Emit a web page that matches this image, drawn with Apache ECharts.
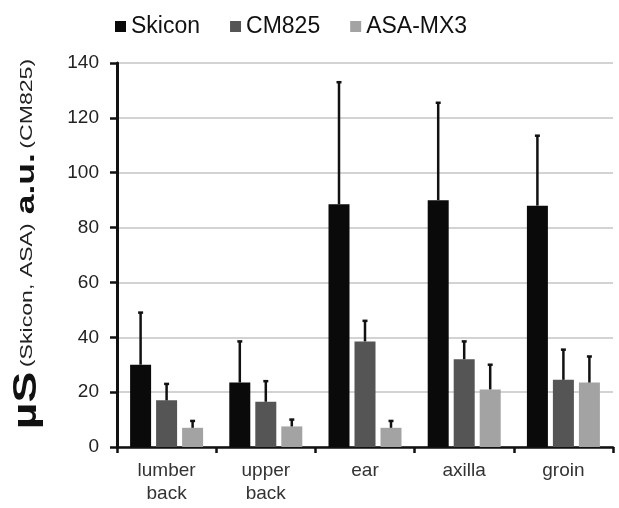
<!DOCTYPE html>
<html><head><meta charset="utf-8">
<script src="https://cdn.jsdelivr.net/npm/echarts@6/dist/echarts.min.js"></script>
<style>html,body{margin:0;padding:0;background:#fff}#c{width:619px;height:508px}</style>
</head><body><div id="c"></div>
<script>
const categories = ['lumber\nback', 'upper\nback', 'ear', 'axilla', 'groin'];
const seriesNames = ['Skicon', 'CM825', 'ASA-MX3'];
const skicon = [30, 23.5, 88.5, 90, 88];
const skiconErr = [19, 15, 44.5, 35.5, 25.5];
const cm825 = [17, 16.5, 38.5, 32, 24.5];
const cm825Err = [6, 7.5, 7.5, 6.5, 11];
const asa = [7, 7.5, 7, 21, 23.5];
const asaErr = [2.5, 2.5, 2.5, 9, 9.5];
const yTicks = [0, 20, 40, 60, 80, 100, 120, 140];

const FONT = 'Liberation Sans, Arial, sans-serif';
const colors = ['#0a0a0a', '#555555', '#a3a3a3'];
const BAR_W = 21, GAP = 5;
const means = [skicon, cm825, asa];
const errs = [skiconErr, cm825Err, asaErr];

function errSeries(idx) {
  const data = categories.map((c, i) => [i, means[idx][i], means[idx][i] + errs[idx][i]]);
  return {
    type: 'custom', name: seriesNames[idx] + ' err', z: 5,
    data: data,
    renderItem: function (params, api) {
      const off = (idx - 1) * (BAR_W + GAP);
      const p0 = api.coord([api.value(0), api.value(1)]);
      const p1 = api.coord([api.value(0), api.value(2)]);
      const x = p0[0] + off;
      return {
        type: 'group', children: [
          { type: 'line', shape: { x1: x, y1: p0[1], x2: x, y2: p1[1] }, style: { stroke: '#111', lineWidth: 2.5 } },
          { type: 'line', shape: { x1: x - 2.5, y1: p1[1], x2: x + 2.5, y2: p1[1] }, style: { stroke: '#111', lineWidth: 2.5 } }
        ]
      };
    },
    silent: true, tooltip: { show: false }
  };
}

const chart = echarts.init(document.getElementById('c'), null, { renderer: 'canvas' });
chart.setOption({
  animation: false,
  textStyle: { fontFamily: FONT },
  legend: {
    data: seriesNames, left: 110, top: 10, itemWidth: 11, itemHeight: 11, itemGap: 30,
    textStyle: { fontSize: 23, color: '#111', fontFamily: FONT },
    icon: 'rect'
  },
  graphic: [{
    type: 'text', x: 44, y: 244, rotation: Math.PI / 2, scaleX: 1.36, scaleY: 1,
    style: {
      text: '{mu|µS} {small|(Skicon, ASA)}  {au|a.u.} {small|(CM825)}',
      align: 'center', verticalAlign: 'bottom',
      rich: {
        mu: { fontSize: 34, fontWeight: 'bold', fill: '#111', fontFamily: FONT },
        au: { fontSize: 26, fontWeight: 'bold', fill: '#111', fontFamily: FONT },
        small: { fontSize: 17, fill: '#222', fontFamily: FONT }
      }
    }
  }],
  grid: { left: 117, right: 6, top: 63, bottom: 61 },
  xAxis: {
    type: 'category', data: categories,
    axisLine: { lineStyle: { color: '#111', width: 2.5 } },
    axisTick: { show: true, length: 6, lineStyle: { color: '#111', width: 2.5 } },
    axisLabel: { fontSize: 19, color: '#333', lineHeight: 23, margin: 12 }
  },
  yAxis: {
    type: 'value', min: yTicks[0], max: yTicks[yTicks.length - 1], interval: 20,
    axisLine: { show: true, lineStyle: { color: '#111', width: 3 } },
    axisTick: { show: true, length: 7, lineStyle: { color: '#111', width: 2.5 } },
    axisLabel: { fontSize: 19, color: '#222', margin: 18 },
    splitLine: { lineStyle: { color: '#c4c4c4', width: 1.5 } }
  },
  series: [
    { type: 'bar', name: seriesNames[0], data: skicon, barWidth: BAR_W, barGap: (GAP / BAR_W * 100) + '%', itemStyle: { color: colors[0] } },
    { type: 'bar', name: seriesNames[1], data: cm825, barWidth: BAR_W, barGap: (GAP / BAR_W * 100) + '%', itemStyle: { color: colors[1] } },
    { type: 'bar', name: seriesNames[2], data: asa, barWidth: BAR_W, barGap: (GAP / BAR_W * 100) + '%', itemStyle: { color: colors[2] } },
    errSeries(0), errSeries(1), errSeries(2)
  ]
});
</script></body></html>
